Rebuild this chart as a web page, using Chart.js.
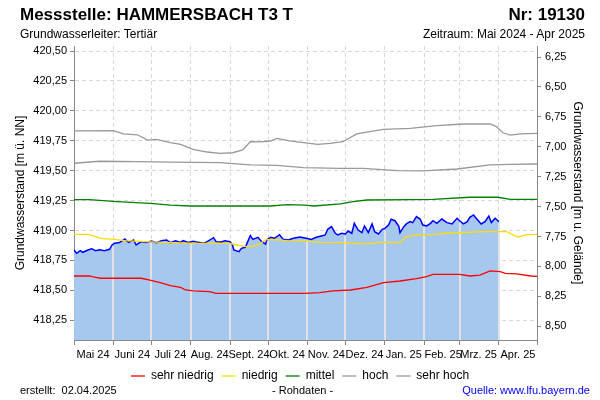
<!DOCTYPE html>
<html>
<head>
<meta charset="utf-8">
<script src="https://cdn.jsdelivr.net/npm/chart.js@4/dist/chart.umd.min.js"></script>
<style>
  body { margin: 0; background: #fff; }
  #wrap { position: relative; width: 600px; height: 400px; font-family: "Liberation Sans", Arial, sans-serif; color: #000; }
  #chart { position: absolute; left: 0; top: 0; }
  .txt { position: absolute; white-space: nowrap; }
  .h1 { font-size: 17px; font-weight: bold; top: 5px; }
  .h2 { font-size: 12px; top: 27px; }
  .ft { font-size: 11px; top: 384px; }
</style>
</head>
<body>
<div id="wrap">
  <canvas id="chart" width="600" height="400"></canvas>
  <div class="txt h1" style="left:20px">Messstelle: HAMMERSBACH T3 T</div>
  <div class="txt h1" style="right:15px">Nr: 19130</div>
  <div class="txt h2" style="left:20px">Grundwasserleiter: Tertiär</div>
  <div class="txt h2" style="right:15px">Zeitraum: Mai 2024 - Apr 2025</div>
  <div class="txt ft" style="left:20px">erstellt:&nbsp; 02.04.2025</div>
  <div class="txt ft" style="left:272px">- Rohdaten -</div>
  <div class="txt ft" style="right:10px;color:#0000ff">Quelle: www.lfu.bayern.de</div>
</div>
<script>
// Grundwasserstand Mai 2024 - Apr 2025, x = Tage ab 01.05.2024

Chart.defaults.font.family = '"Liberation Sans", Arial, sans-serif';
Chart.defaults.font.size = 11;
Chart.defaults.color = "#000";

const monthStarts = [0, 31, 61, 92, 123, 153, 184, 214, 245, 276, 304, 335, 365];
const monthLabels = ["Mai 24", "Juni 24", "Juli 24", "Aug. 24", "Sept. 24", "Okt. 24",
  "Nov. 24", "Dez. 24", "Jan. 25", "Feb. 25", "Mrz. 25", "Apr. 25"];

const levelTicks = [418.25, 418.5, 418.75, 419, 419.25, 419.5, 419.75, 420, 420.25, 420.5];
const depthTicks = [6.25, 6.5, 6.75, 7, 7.25, 7.5, 7.75, 8, 8.25, 8.5];
const groundLevel = 426.70; // m ü. NN, for the right axis (m u. Gelände)

// measured level
const blueDays = [0,2,5,7,11,14,17,20,24,28, 30,32,36,40,43,47,49,53,57,61,
  65,69,73,76,80,84,86,90,94,98, 102,105,110,112,116,119,123,125,126,130,
  132,135,139,141,145,148,151,152,155,158, 162,165,169,173,178,183,187,191,195,198,
  200,203,206,208,211,214,216,219,221,224, 227,229,232,235,237,240,243,245,248,250,
  253,256,257,260,262,265,267,270,273,275, 278,281,283,286,290,294,298,302,304,307,
  310,312,315,317,321,324,327,329,332,335];
const blueLevels = [418.837,418.810,418.832,418.818,418.837,418.848,418.832,418.840,418.832,418.843,
  418.879,418.893,418.899,418.929,418.901,418.921,418.879,418.907,418.899,418.912,
  418.899,418.915,418.921,418.899,418.915,418.901,418.915,418.901,418.910,418.901,
  418.893,418.907,418.940,418.907,418.904,418.915,418.907,418.879,418.837,418.823,
  418.851,418.860,418.957,418.926,418.943,418.907,418.887,418.921,418.943,418.935,
  418.965,418.926,418.921,418.935,418.945,418.935,418.926,418.943,418.954,418.963,
  419.010,419.032,418.977,418.963,418.977,418.971,418.996,418.977,419.060,419.004,
  418.982,419.038,418.982,419.055,418.990,418.971,419.010,419.018,419.046,419.094,
  419.082,419.038,418.982,419.032,419.055,419.074,419.066,419.116,419.094,419.046,
  419.038,419.060,419.082,419.060,419.096,419.066,419.055,419.102,419.082,419.055,
  419.074,419.110,419.130,419.102,419.055,419.074,419.121,419.066,419.102,419.074];

// sehr niedrig
const redDays = [0,12,17,21,53,59,63,68,76,84, 88,94,107,112,155,182,194,204,218,231,
  244,257,270,278,283,304,312,320,328,336, 340,349,360,365];
const redLevels = [418.620,418.620,418.609,418.601,418.601,418.587,418.578,418.564,418.539,418.525,
  418.503,418.495,418.489,418.475,418.475,418.475,418.481,418.495,418.503,418.525,
  418.564,418.578,418.598,418.615,418.634,418.634,418.620,418.628,418.662,418.656,
  418.642,418.637,418.620,418.617];

// niedrig
const yellowDays = [0,11,17,21,32,40,55,76,97,123, 128,136,143,147,151,155,168,182,194,210,
  231,241,257,262,270,283,294,323,341,346, 350,357,365];
const yellowLevels = [418.968,418.968,418.949,418.935,418.926,418.915,418.907,418.899,418.893,418.893,
  418.879,418.865,418.871,418.893,418.921,418.926,418.915,418.913,418.901,418.899,
  418.888,418.901,418.901,418.949,418.963,418.968,418.977,418.991,418.991,418.963,
  418.946,418.965,418.968];

// mittel
const greenDays = [0,12,34,60,76,92,155,168,182,189,210,220,231,265,283,312,334,344,365];
const greenLevels = [419.258,419.258,419.241,419.227,419.213,419.205,419.205,419.216,419.213,419.205,
  419.222,419.241,419.255,419.258,419.261,419.278,419.278,419.261,419.261];

// hoch
const highDays = [0,20,50,76,115,139,160,181,209,228,255,275,302,328,344,365];
const highLevels = [419.562,419.579,419.576,419.571,419.567,419.548,419.545,419.525,419.520,419.520,
  419.500,419.498,419.514,419.548,419.553,419.556];

// sehr hoch
const vhighDays = [0,31,39,50,58,65,76,84,94,105, 115,125,133,139,147,155,160,170,181,192,
  202,212,223,233,244,265,286,307,328,333, 338,344,352,365];
const vhighLevels = [419.832,419.834,419.807,419.800,419.756,419.762,419.734,419.720,419.679,419.656,
  419.645,419.650,419.673,419.742,419.740,419.748,419.770,419.750,419.734,419.720,
  419.729,419.742,419.807,419.826,419.846,419.854,419.876,419.890,419.890,419.868,
  419.817,419.798,419.807,419.812];

function pts(days, vals) {
  return days.map((d, i) => ({ x: d, y: vals[i] }));
}
function line(label, days, vals, color) {
  return { label: label, data: pts(days, vals), borderColor: color, backgroundColor: color,
    borderWidth: 1.3, pointRadius: 0, fill: false };
}
function fmt(v) {
  return v.toFixed(2).replace(".", ",");
}

// light lines at the month boundaries inside the blue area
const monthLinesInFill = {
  id: "monthLinesInFill",
  afterDatasetDraw(chart, args) {
    if (args.index !== 5) return;
    const ctx = chart.ctx, xs = chart.scales.x, ys = chart.scales.y;
    ctx.save();
    ctx.strokeStyle = "#e2e2e2";
    ctx.lineWidth = 2;
    monthStarts.forEach(m => {
      if (m <= 0 || m > blueDays[blueDays.length - 1]) return;
      let k = blueDays.findIndex(d => d >= m);
      let v = blueLevels[k];
      if (k > 0 && blueDays[k] !== m) {
        const t = (m - blueDays[k - 1]) / (blueDays[k] - blueDays[k - 1]);
        v = blueLevels[k - 1] + t * (blueLevels[k] - blueLevels[k - 1]);
      }
      const px = Math.round(xs.getPixelForValue(m));
      ctx.beginPath();
      ctx.moveTo(px, ys.bottom);
      ctx.lineTo(px, ys.getPixelForValue(v) + 2);
      ctx.stroke();
    });
    ctx.restore();
  }
};

const data = {
  datasets: [
    line("sehr niedrig", redDays, redLevels, "#ff0000"),
    line("niedrig", yellowDays, yellowLevels, "#ffdd00"),
    line("mittel", greenDays, greenLevels, "#008000"),
    line("hoch", highDays, highLevels, "#999999"),
    line("sehr hoch", vhighDays, vhighLevels, "#999999"),
    {
      label: "Messwerte",
      data: pts(blueDays, blueLevels),
      borderColor: "#0000ff",
      backgroundColor: "#a6c8ee",
      borderWidth: 1.5,
      pointRadius: 0,
      fill: "start",
    },
  ],
};

const config = {
  type: "line",
  data: data,
  options: {
    responsive: false,
    animation: false,
    layout: { padding: { top: 46, left: 0, right: 0, bottom: 8 } },
    scales: {
      x: {
        type: "linear",
        min: 0,
        max: 365,
        afterFit: s => { s.height = 22; },
        afterBuildTicks: s => { s.ticks = monthStarts.map(v => ({ value: v })); },
        ticks: {
          autoSkip: false,
          maxRotation: 0,
          minRotation: 0,
          padding: 3,
          labelOffset: 19,
          callback: (value, index) => monthLabels[index] || "",
        },
        grid: { color: "#d8d8d8", tickColor: "#888", tickLength: 5 },
        border: { color: "#888", dash: [4, 3] },
      },
      y: {
        position: "left",
        min: 418.085,
        max: 420.542,
        afterFit: s => { s.width = 74; },
        afterBuildTicks: s => { s.ticks = levelTicks.map(v => ({ value: v })); },
        ticks: { padding: 3, callback: v => fmt(v) },
        grid: { color: "#d8d8d8", tickColor: "#888", tickLength: 4 },
        border: { color: "#888", dash: [4, 3] },
        title: { display: true, text: "Grundwasserstand [m ü. NN]", font: { size: 12 }, padding: { top: 13, bottom: 0 } },
      },
      y2: {
        position: "right",
        reverse: true,
        min: groundLevel - 420.542,
        max: groundLevel - 418.085,
        afterFit: s => { s.width = 63; },
        afterBuildTicks: s => { s.ticks = depthTicks.map(v => ({ value: v })); },
        ticks: { padding: 4, callback: v => fmt(v) },
        grid: { drawOnChartArea: false, color: "#888", tickLength: 4 },
        border: { color: "#888" },
        title: { display: true, text: "Grundwasserstand [m u. Gelände]", font: { size: 12 }, padding: { top: 15, bottom: 0 } },
      },
    },
    plugins: {
      tooltip: { enabled: false },
      legend: {
        display: true,
        position: "bottom",
        labels: {
          filter: item => item.datasetIndex < 5,
          usePointStyle: true,
          pointStyle: "line",
          pointStyleWidth: 14,
          padding: 8,
          font: { size: 12 },
          color: "#000",
        },
      },
    },
  },
  plugins: [monthLinesInFill],
};

const chart = new Chart(document.getElementById("chart").getContext("2d"), config);
</script>
</body>
</html>
